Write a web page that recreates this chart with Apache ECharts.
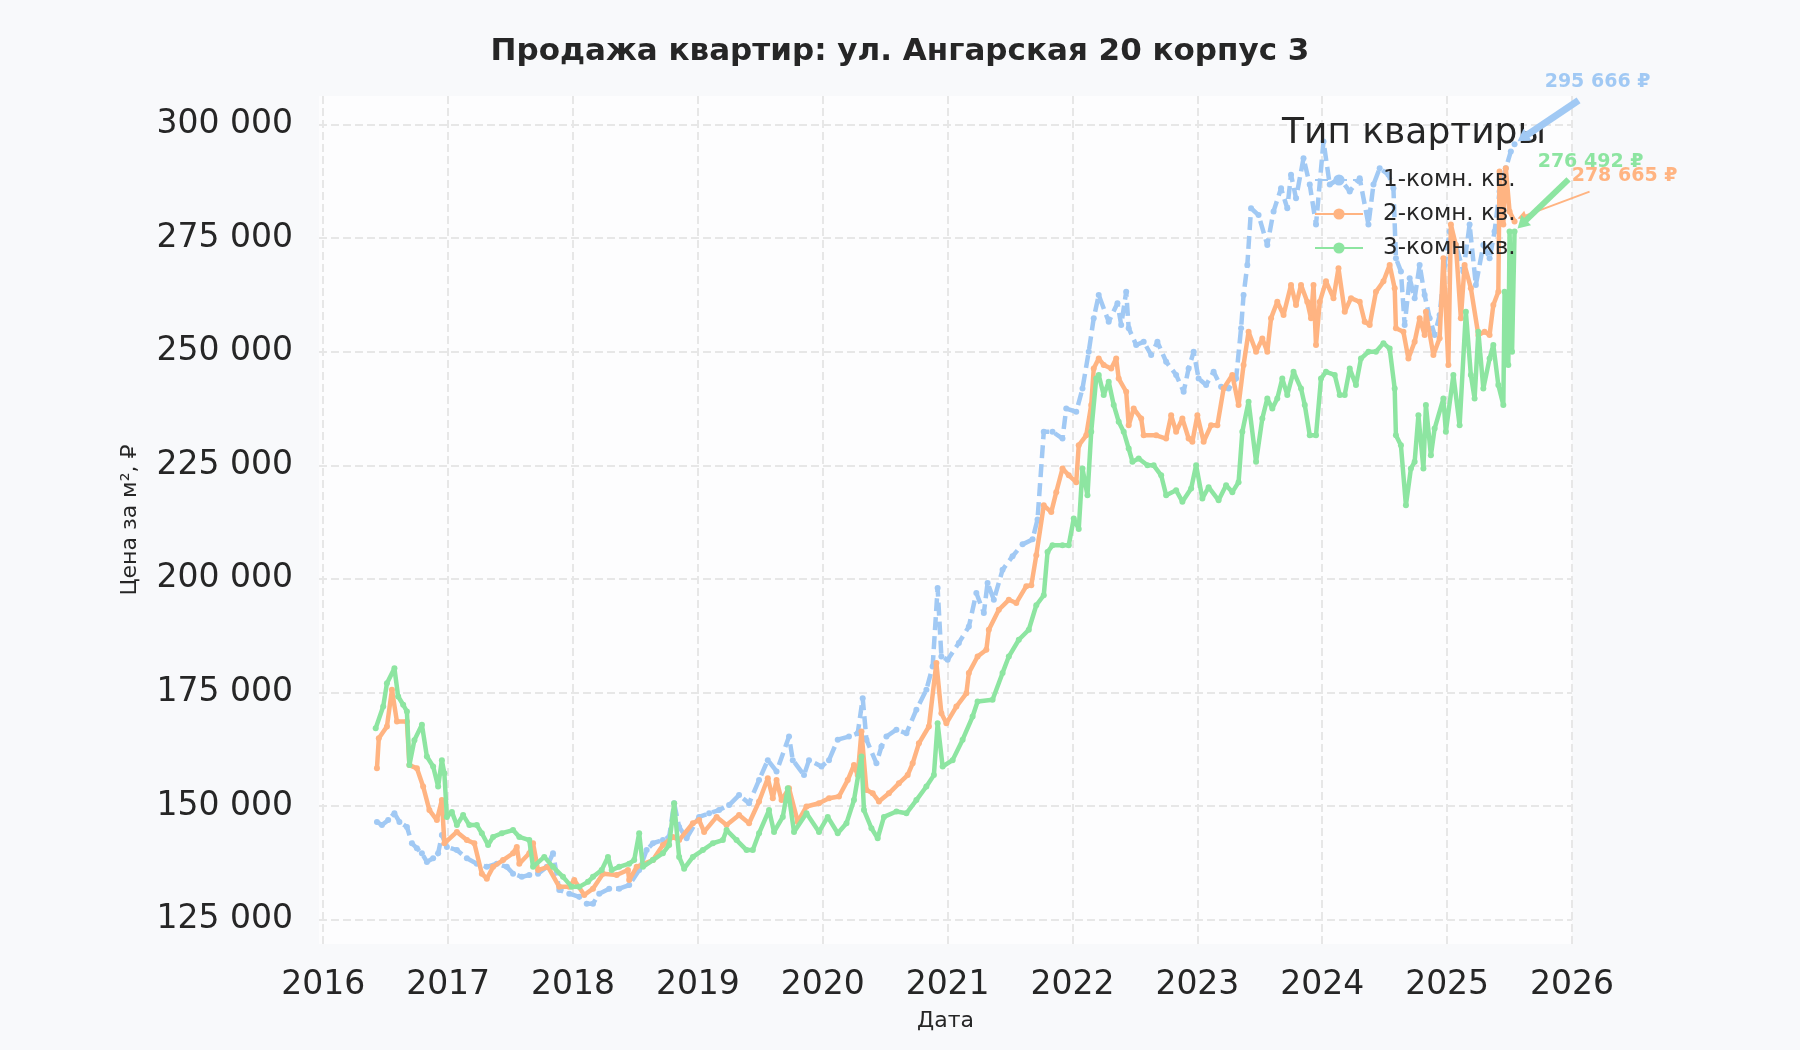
<!DOCTYPE html>
<html>
<head>
<meta charset="utf-8">
<script src="https://cdn.jsdelivr.net/npm/echarts@6/dist/echarts.min.js"></script>
<style>
  html, body { margin: 0; padding: 0; background: #f8f9fb; }
  #container { width: 1800px; height: 1050px; }
</style>
</head>
<body>
<div id="container"></div>
<script>
// 1-комн. кв.
var t1 = [2016.43, 2016.47, 2016.52, 2016.57, 2016.61, 2016.67, 2016.71, 2016.75, 2016.79, 2016.83, 2016.88, 2016.92, 2016.95, 2016.99,
  2017.07, 2017.15, 2017.23, 2017.31, 2017.39, 2017.47, 2017.52, 2017.59, 2017.65, 2017.72, 2017.79, 2017.84, 2017.89, 2017.97,
  2018.05, 2018.11, 2018.16, 2018.21, 2018.29, 2018.37, 2018.45, 2018.53, 2018.59, 2018.64, 2018.72, 2018.77, 2018.81, 2018.85, 2018.91,
  2019.01, 2019.09, 2019.17, 2019.25, 2019.33, 2019.41, 2019.49, 2019.56, 2019.63, 2019.73, 2019.76, 2019.85, 2019.89, 2019.99,
  2020.05, 2020.12, 2020.21, 2020.28, 2020.32, 2020.35, 2020.43, 2020.47, 2020.51, 2020.59, 2020.67, 2020.75, 2020.83, 2020.88, 2020.92, 2020.95,
  2021.0, 2021.09, 2021.17, 2021.23, 2021.29, 2021.32, 2021.37, 2021.44, 2021.52, 2021.6, 2021.68, 2021.72, 2021.77, 2021.84, 2021.92, 2021.95,
  2022.03, 2022.08, 2022.13, 2022.17, 2022.21, 2022.29, 2022.36, 2022.39, 2022.43, 2022.45, 2022.51, 2022.57, 2022.63, 2022.68, 2022.75, 2022.83, 2022.89, 2022.93, 2022.97,
  2023.01, 2023.07, 2023.13, 2023.19, 2023.25, 2023.31, 2023.35, 2023.37, 2023.4, 2023.43, 2023.49, 2023.56, 2023.61, 2023.67, 2023.72, 2023.75, 2023.79, 2023.85, 2023.9, 2023.95,
  2024.01, 2024.06, 2024.14, 2024.22, 2024.3, 2024.37, 2024.41, 2024.46, 2024.53, 2024.57, 2024.59, 2024.63, 2024.66, 2024.7, 2024.74, 2024.78, 2024.82, 2024.86, 2024.9, 2024.94, 2024.98,
  2025.02, 2025.07, 2025.13, 2025.18, 2025.23, 2025.29, 2025.34, 2025.38, 2025.42, 2025.47, 2025.51, 2025.54];
var p1 = [146500, 145800, 146900, 148400, 146500, 145400, 141800, 140700, 139600, 137700, 138500, 139600, 143600, 141000,
  140300, 138500, 137300, 136600, 137300, 136600, 135100, 134400, 134800, 135100, 136600, 139600, 131500, 130700,
  130000, 128500, 128500, 130700, 131800, 131800, 132600, 135900, 140300, 141800, 142500, 143200, 150600, 145400, 142900,
  147600, 148400, 149100, 150200, 152400, 150600, 155700, 160100, 157600, 165300, 160100, 156800, 160100, 158700,
  160100, 164600, 165300, 166000, 173700, 164600, 159400, 163100, 165300, 166800, 166000, 171200, 175600, 180700, 198000, 182900,
  182200, 185900, 189500, 196900, 192500, 199100, 195400, 202000, 205000, 207600, 208700, 213100, 232400, 232400, 230900, 237500,
  236800, 241900, 250000, 257400, 262500, 256600, 260700, 255900, 263200, 255200, 251500, 252200, 249300, 252200, 247800, 244900, 241200, 246300, 250000,
  244100, 242700, 245600, 242300, 241900, 244100, 255200, 262500, 269100, 281600, 280100, 273500, 280900, 286000, 281600, 289000, 283800, 292600, 286800, 278000,
  296300, 286800, 288200, 285300, 288200, 278000, 286800, 290400, 289000, 286000, 270600, 267700, 255900, 266200, 261800, 269100, 262500, 257400, 253700, 258100, 269100,
  276500, 273500, 267700, 278000, 264700, 273500, 270600, 276500, 285300, 290400, 294100, 295666];

// 2-комн. кв.
var t2 = [2016.43, 2016.445, 2016.51, 2016.55, 2016.59, 2016.67, 2016.69, 2016.75, 2016.8, 2016.85, 2016.91, 2016.95, 2016.97,
  2017.07, 2017.15, 2017.21, 2017.27, 2017.31, 2017.36, 2017.44, 2017.52, 2017.55, 2017.57, 2017.65, 2017.68, 2017.72, 2017.8, 2017.89, 2017.97,
  2018.01, 2018.09, 2018.16, 2018.24, 2018.35, 2018.44, 2018.45, 2018.51, 2018.64, 2018.72, 2018.8, 2018.85, 2018.96,
  2019.01, 2019.05, 2019.15, 2019.23, 2019.33, 2019.41, 2019.49, 2019.56, 2019.6, 2019.63, 2019.67, 2019.73, 2019.8, 2019.87, 2019.97,
  2020.05, 2020.13, 2020.2, 2020.25, 2020.28, 2020.31, 2020.35, 2020.4, 2020.45, 2020.53, 2020.61, 2020.68, 2020.72, 2020.77, 2020.85, 2020.91, 2020.95, 2020.99,
  2021.07, 2021.15, 2021.17, 2021.24, 2021.31, 2021.33, 2021.41, 2021.49, 2021.55, 2021.63, 2021.67, 2021.71, 2021.77, 2021.83, 2021.87, 2021.92, 2021.97,
  2022.03, 2022.05, 2022.11, 2022.15, 2022.17, 2022.21, 2022.25, 2022.31, 2022.35, 2022.37, 2022.43, 2022.45, 2022.49, 2022.55, 2022.57, 2022.67, 2022.75, 2022.79, 2022.83, 2022.88, 2022.93, 2022.96,
  2023.0, 2023.05, 2023.11, 2023.16, 2023.21, 2023.28, 2023.33, 2023.37, 2023.41, 2023.47, 2023.52, 2023.56, 2023.59, 2023.64, 2023.69, 2023.75, 2023.79, 2023.83, 2023.88, 2023.91, 2023.93, 2023.95, 2023.98,
  2024.03, 2024.09, 2024.13, 2024.18, 2024.23, 2024.3, 2024.34, 2024.38, 2024.43, 2024.49, 2024.54, 2024.58, 2024.59, 2024.65, 2024.69, 2024.74, 2024.78, 2024.82, 2024.83, 2024.89, 2024.94, 2024.97,
  2025.01, 2025.03, 2025.07, 2025.11, 2025.14, 2025.19, 2025.25, 2025.3, 2025.34, 2025.37, 2025.41, 2025.42, 2025.45, 2025.47, 2025.5, 2025.54];
var p2 = [158300, 164900, 167500, 175600, 168600, 168600, 159000, 158300, 154300, 149100, 146900, 151300, 141800,
  144300, 142500, 141800, 135100, 134000, 136600, 138100, 139600, 141000, 137300, 139600, 141800, 135900, 136600, 132200, 132200,
  133700, 130400, 131800, 135100, 134800, 135900, 133700, 136600, 138100, 141400, 143200, 142500, 146200,
  146900, 144300, 147600, 145800, 148000, 146200, 151000, 156100, 151700, 155700, 151300, 153900, 146500, 149900, 150600,
  151700, 152100, 155700, 159000, 156800, 166400, 153500, 152800, 151000, 152800, 155000, 156800, 159400, 163800, 167500, 181500, 170400, 168200,
  171900, 174800, 179300, 182900, 184400, 188800, 193200, 195400, 194700, 198400, 198600, 205200, 216200, 214700, 219100, 224300, 222800,
  221300, 229400, 231600, 238300, 246300, 248500, 247100, 246300, 248500, 244100, 241200, 233800, 237500, 235300, 231600, 231600, 230900, 236000, 232400, 235300, 230900, 230200,
  236000, 230200, 233800, 233800, 241900, 244900, 238300, 247100, 254400, 250000, 252900, 250000, 257400, 261000, 258100, 264700, 260300, 264700, 261000, 257400, 264700, 251500, 261000,
  265500, 261800, 268400, 258800, 261800, 261000, 256600, 255900, 263200, 265500, 269100, 264000, 255200, 254400, 248500, 252200, 257400, 253700, 258800, 249300, 253000, 270600,
  247100, 278000, 273500, 257400, 269100, 264000, 253700, 254400, 253700, 260300, 263200, 289700, 278000, 290400, 280900, 278665];

// 3-комн. кв.
var t3 = [2016.42, 2016.48, 2016.51, 2016.57, 2016.6, 2016.64, 2016.67, 2016.69, 2016.73, 2016.79, 2016.83, 2016.88, 2016.92, 2016.95, 2016.97, 2016.99,
  2017.03, 2017.07, 2017.12, 2017.17, 2017.23, 2017.27, 2017.32, 2017.36, 2017.43, 2017.52, 2017.57, 2017.65, 2017.68, 2017.77, 2017.84, 2017.92, 2017.99,
  2018.05, 2018.12, 2018.16, 2018.23, 2018.28, 2018.31, 2018.37, 2018.45, 2018.49, 2018.53, 2018.56, 2018.64, 2018.72, 2018.77, 2018.81, 2018.85, 2018.89, 2018.96,
  2019.04, 2019.12, 2019.2, 2019.23, 2019.31, 2019.39, 2019.44, 2019.49, 2019.57, 2019.61, 2019.68, 2019.72, 2019.77, 2019.87, 2019.97,
  2020.04, 2020.12, 2020.19, 2020.25, 2020.31, 2020.33, 2020.39, 2020.44, 2020.49, 2020.59, 2020.67, 2020.75, 2020.83, 2020.89, 2020.92, 2020.96,
  2021.04, 2021.12, 2021.2, 2021.24, 2021.36, 2021.44, 2021.49, 2021.57, 2021.65, 2021.71, 2021.77, 2021.8, 2021.84, 2021.92, 2021.97,
  2022.01, 2022.05, 2022.08, 2022.12, 2022.15, 2022.19, 2022.21, 2022.25, 2022.29, 2022.33, 2022.37, 2022.41, 2022.45, 2022.48, 2022.53, 2022.6, 2022.65, 2022.71, 2022.75, 2022.83, 2022.88, 2022.95, 2022.99,
  2023.04, 2023.09, 2023.17, 2023.23, 2023.28, 2023.33, 2023.36, 2023.41, 2023.47, 2023.52, 2023.56, 2023.6, 2023.64, 2023.68, 2023.72, 2023.77, 2023.83, 2023.86, 2023.9, 2023.95, 2023.99,
  2024.03, 2024.1, 2024.14, 2024.18, 2024.22, 2024.27, 2024.31, 2024.37, 2024.43, 2024.49, 2024.54, 2024.58, 2024.59, 2024.63, 2024.67, 2024.71, 2024.74, 2024.77, 2024.81, 2024.83, 2024.87, 2024.9, 2024.97, 2024.99,
  2025.05, 2025.1, 2025.15, 2025.19, 2025.22, 2025.25, 2025.29, 2025.34, 2025.37, 2025.41, 2025.45, 2025.46, 2025.49, 2025.5, 2025.52, 2025.54];
var p3 = [167100, 171900, 177000, 180300, 174100, 172300, 170800, 159000, 164500, 167900, 160900, 158700, 154300, 160100, 157200, 147600,
  148700, 145800, 148000, 145800, 145800, 144000, 141400, 143200, 144000, 144700, 143200, 142500, 136600, 138800, 136600, 134400, 132200,
  132200, 133300, 134400, 135900, 138800, 135900, 136600, 137300, 138100, 144000, 136600, 138100, 139600, 141400, 150600, 138800, 136200, 138800,
  140300, 141800, 142500, 144700, 142500, 140300, 140300, 144000, 149100, 144300, 147600, 153900, 144300, 148400, 144300,
  147600, 144000, 146200, 151300, 160900, 149100, 145100, 142900, 147600, 148800, 148400, 151300, 154300, 156800, 168200, 158700,
  160100, 164600, 169700, 173000, 173400, 179300, 182900, 186600, 188800, 194200, 196400, 205900, 207400, 207400, 207400,
  213300, 211000, 224300, 218400, 232400, 244100, 244900, 240500, 243400, 238300, 234600, 232400, 228700, 225800, 226500, 225000, 225000, 222800, 218400, 219500, 217000, 219900, 225000,
  217700, 220200, 217300, 220600, 219100, 221300, 232400, 239000, 225800, 235300, 239700, 237500, 239700, 244100, 240500, 245600, 241900, 238300, 231600, 231600, 244100,
  245600, 244900, 240500, 240500, 246300, 242700, 248500, 250000, 250000, 251900, 250700, 241900, 231600, 229400, 216200, 224300, 225800, 236000, 224300, 238300, 227200, 233100, 239700, 232400,
  244900, 233800, 258800, 244900, 239700, 254400, 241900, 248500, 251500, 242700, 238300, 263200, 247100, 276500, 250000, 276492];

var seriesNames = ['1-комн. кв.', '2-комн. кв.', '3-комн. кв.'];
var seriesColors = ['#a1c9f4', '#ffb482', '#8de5a1'];
var yearTicks = [2016, 2017, 2018, 2019, 2020, 2021, 2022, 2023, 2024, 2025, 2026];
var priceTicks = [125000, 150000, 175000, 200000, 225000, 250000, 275000, 300000];

var FONT = 'DejaVu Sans';
var TXT = '#262626';

function pairs(t, p) {
    return t.map(function (x, i) { return [x, p[i]]; });
}
function fmt(v) {
    return String(Math.round(v)).replace(/\B(?=(\d{3})+(?!\d))/g, ' ');
}

var dom = document.getElementById('container');
var myChart = echarts.init(dom, null, { renderer: 'canvas' });

var gridLine = { show: true, lineStyle: { color: '#e7e7e7', width: 2, type: [8, 4] } };

var lines = [[t1, p1], [t2, p2], [t3, p3]].map(function (s, i) {
    return {
        name: seriesNames[i],
        type: 'line',
        data: pairs(s[0], s[1]),
        symbol: 'circle',
        symbolSize: 6,
        showSymbol: true,
        showAllSymbol: true,
        animation: false,
        itemStyle: { color: seriesColors[i] },
        lineStyle: { color: seriesColors[i], width: 4.5, type: i === 0 ? [13, 6] : 'solid' },
        z: 2 + i
    };
});

var option = {
    backgroundColor: '#f8f9fb',
    animation: false,
    title: [
        {
            text: 'Продажа квартир: ул. Ангарская 20 корпус 3',
            left: 'center',
            top: 31,
            textStyle: { fontFamily: FONT, fontSize: 31, fontWeight: 'bold', color: TXT }
        },
        {
            text: 'Тип квартиры',
            left: 1277,
            top: 111,
            z: 10,
            textStyle: { fontFamily: FONT, fontSize: 36, fontWeight: 'normal', color: TXT }
        }
    ],
    legend: {
        orient: 'vertical',
        left: 1309,
        top: 163,
        z: 10,
        itemWidth: 48,
        itemHeight: 14,
        itemGap: 10,
        data: seriesNames,
        textStyle: { fontFamily: FONT, fontSize: 23, color: TXT, lineHeight: 24, padding: [0, 0, 0, 15] }
    },
    grid: {
        left: 319, right: 228, top: 96, bottom: 106,
        show: true, backgroundColor: '#fdfdfe', borderWidth: 0
    },
    xAxis: {
        type: 'value',
        min: 2015.966,
        max: 2026.0,
        name: 'Дата',
        nameLocation: 'middle',
        nameGap: 66,
        nameTextStyle: { fontFamily: FONT, fontSize: 22, color: TXT },
        axisLine: { show: false },
        axisTick: { show: false, customValues: yearTicks },
        axisLabel: {
            customValues: yearTicks,
            fontFamily: FONT, fontSize: 33, color: TXT, margin: 25,
            formatter: function (v) { return String(Math.round(v)); }
        },
        splitLine: gridLine
    },
    yAxis: {
        type: 'value',
        min: 119620,
        max: 306310,
        name: 'Цена за м², ₽',
        nameLocation: 'middle',
        nameRotate: 90,
        nameGap: 178,
        nameTextStyle: { fontFamily: FONT, fontSize: 22, color: TXT },
        axisLine: { show: false },
        axisTick: { show: false, customValues: priceTicks },
        axisLabel: {
            customValues: priceTicks,
            align: 'right',
            fontFamily: FONT, fontSize: 33, color: TXT, margin: 26,
            formatter: fmt
        },
        splitLine: gridLine
    },
    series: lines
};

if (option && typeof option === 'object') {
    myChart.setOption(option, true);
}

// подписи последних значений со стрелками
var lastPoints = [[t1, p1], [t2, p2], [t3, p3]];
var annot = [
    { text: [83, -62], from: [64, -44], width: 7 },
    { text: [110, -46], from: [75, -30], width: 2 },
    { text: [76, -69], from: [54, -52], width: 6 }
];
var elements = [];
lastPoints.forEach(function (s, i) {
    var n = s[0].length - 1;
    var pt = myChart.convertToPixel({ xAxisIndex: 0, yAxisIndex: 0 }, [s[0][n], s[1][n]]);
    var a = annot[i];
    var x0 = pt[0] + a.from[0], y0 = pt[1] + a.from[1];
    var x1 = pt[0] + 3, y1 = pt[1] - 3;
    var dx = x1 - x0, dy = y1 - y0, len = Math.sqrt(dx * dx + dy * dy);
    var ux = dx / len, uy = dy / len;
    var hw = a.width > 3 ? 7 : 5, hl = a.width > 3 ? 12 : 9;
    elements.push({
        type: 'line', z: 50,
        shape: { x1: x0, y1: y0, x2: x1 - ux * hl * 0.6, y2: y1 - uy * hl * 0.6 },
        style: { stroke: seriesColors[i], lineWidth: a.width }
    });
    elements.push({
        type: 'polygon', z: 50,
        shape: { points: [[x1, y1], [x1 - ux * hl - uy * hw, y1 - uy * hl + ux * hw], [x1 - ux * hl + uy * hw, y1 - uy * hl - ux * hw]] },
        style: { fill: seriesColors[i] }
    });
    elements.push({
        type: 'text', z: 51,
        x: pt[0] + a.text[0], y: pt[1] + a.text[1],
        style: {
            text: fmt(s[1][n]) + ' ₽', fill: seriesColors[i],
            font: 'bold 19px "DejaVu Sans"', align: 'center', verticalAlign: 'middle'
        }
    });
});
myChart.setOption({ graphic: elements });
</script>
</body>
</html>
